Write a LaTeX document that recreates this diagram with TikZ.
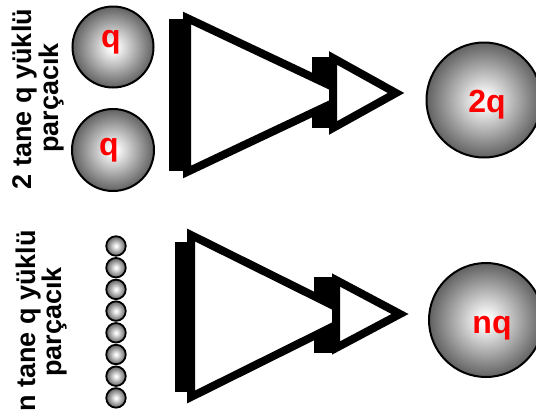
\documentclass[tikz,border=0pt]{standalone}
\usepackage{fontspec}
\setmainfont{Liberation Sans}
\pgfdeclareradialshading{ballgrad}{\pgfpoint{0bp}{0bp}}{color(0bp)=(white); color(3bp)=(white!97!black); color(25bp)=(black!62); color(50bp)=(black!62)}
\begin{document}
\begin{tikzpicture}[x=1pt,y=-1pt,
  ball/.style={circle, draw=black, line width=2pt, shading=ballgrad, inner sep=0pt},
  smallball/.style={circle, draw=black, line width=1.8pt, shading=ballgrad, inner sep=0pt, minimum size=19.5pt},
  chg/.style={text=red, font=\fontsize{32pt}{32pt}\selectfont\bfseries, inner sep=0pt, anchor=base},
  txt/.style={font=\fontsize{27pt}{27pt}\selectfont\bfseries, inner sep=0pt, rotate=90, anchor=base},
  tri/.style={draw=black, fill=white, line width=8pt, line join=miter, miter limit=10},
  shadowfill/.style={fill=black}]
\useasboundingbox[fill=white] (0,0) rectangle (536,418);

% left texts
\node[txt] (t1a) at (31,99) {2 tane q yüklü};
\node[txt] (t1b) at (58,98) {parçacık};
\node[txt] (t2a) at (35,321) {n tane q yüklü};
\node[txt] (t2b) at (61,322) {parçacık};

% two q balls
\node[ball, minimum size=81pt] (qa) at (113,47) {};
\node[ball, minimum size=82pt] (qb) at (113,150) {};
\node[chg] (qat) at (111,47) {q};
\node[chg] (qbt) at (109,155) {q};

% n small balls
\foreach \i in {0,...,7}{
  \node[smallball] (s\i) at (116,{246+21.7*\i}) {};
}

% top merge arrow
\fill[shadowfill] (169,19) rectangle (187,171);
\fill[shadowfill] (312,57) rectangle (333,128);
\draw[tri] (187,18) -- (350,95) -- (187,172) -- cycle;
\draw[tri] (333,58) -- (396,93) -- (333,128) -- cycle;

% bottom merge arrow
\fill[shadowfill] (175,242) rectangle (191,392);
\fill[shadowfill] (314,277) rectangle (336,353);
\draw[tri] (191,235) -- (354,316) -- (191,397) -- cycle;
\draw[tri] (336,280) -- (400,314) -- (336,348) -- cycle;

% result balls
\node[ball, minimum size=115pt] (r1) at (484,100) {};
\node[ball, minimum size=114pt] (r2) at (486,320) {};
\node[chg] (r1t) at (487,112) {2q};
\node[chg] (r2t) at (492,333) {nq};
\end{tikzpicture}
\end{document}
